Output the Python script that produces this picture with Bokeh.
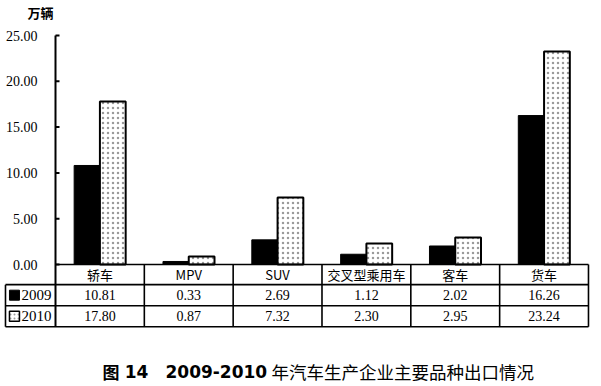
from bokeh.plotting import figure
from bokeh.models import Range1d
from bokeh.core.properties import value
from bokeh.embed import file_html
from bokeh.resources import INLINE

# ---------------- data ----------------
categories = ["轿车", "MPV", "SUV", "交叉型乘用车", "客车", "货车"]
years = ["2009", "2010"]
exports_2009 = [10.81, 0.33, 2.69, 1.12, 2.02, 16.26]
exports_2010 = [17.80, 0.87, 7.32, 2.30, 2.95, 23.24]
y_ticks = [0, 5, 10, 15, 20, 25]
y_tick_labels = ["0.00", "5.00", "10.00", "15.00", "20.00", "25.00"]
unit_label = "万辆"
title_fig = "图"
title_num = "14"
title_years = "2009-2010"
title_rest = "年汽车生产企业主要品种出口情况"

# ---------------- layout constants ----------------
W, H = 601, 386
PX = 88.83         # px per category unit
PY = 9.16          # px per value unit
X0 = -55 / PX
Y1 = 264 / PY
LEG = -0.563       # left edge of legend column
BW = 0.29          # bar width
ROWS = [0.0, -2.2, -4.5, -6.8]   # table row boundaries (data units)

SERIF = value("Liberation Serif")
CJK = value("Noto Sans CJK SC")
BOLD_LATIN = value("DejaVu Sans")

p = figure(width=W, height=H, output_backend="svg", toolbar_location=None,
           x_range=Range1d(X0, X0 + W / PX), y_range=Range1d(Y1 - H / PY, Y1),
           x_axis_type=None, y_axis_type=None, min_border=0)
p.grid.visible = False
p.outline_line_color = None
p.background_fill_color = "white"
p.border_fill_color = "white"

n = len(categories)
centers = [i + 0.5 for i in range(n)]

# ---------------- bars ----------------
p.vbar(x=[c - BW / 2 for c in centers], top=exports_2009, width=BW, bottom=0,
       fill_color="black", line_color="black", line_width=1)
p.vbar(x=[c + BW / 2 for c in centers], top=exports_2010, width=BW, bottom=0,
       fill_color="white", line_color="black", line_width=2,
       hatch_pattern="dot", hatch_color="#9a9a9a", hatch_scale=5, hatch_weight=0.6)

# ---------------- y axis (drawn) ----------------
p.segment(x0=[0], y0=[max(y_ticks)], x1=[0], y1=[ROWS[-1]], line_color="black", line_width=2)
p.segment(x0=[0] * len(y_ticks), y0=y_ticks, x1=[0.045] * len(y_ticks), y1=y_ticks,
          line_color="black", line_width=2)
p.text(x=[-0.203] * len(y_ticks), y=y_ticks, text=y_tick_labels, text_align="right",
       text_baseline="middle", text_font=SERIF, text_font_size="14px", text_color="black")
p.text(x=[-0.17], y=[27.5], text=[unit_label], text_align="center", text_baseline="middle",
       text_font=CJK, text_font_size="13px", text_font_style="bold", text_color="black")

# ---------------- table ----------------
hx0 = [0, LEG, LEG, LEG]
hx1 = [n, n, n, n]
p.segment(x0=hx0, y0=ROWS, x1=hx1, y1=ROWS, line_color="black", line_width=1.6)
vx = list(range(1, n + 1))
p.segment(x0=vx, y0=[0] * len(vx), x1=vx, y1=[ROWS[-1]] * len(vx), line_color="black", line_width=1.6)
p.segment(x0=[LEG], y0=[ROWS[1]], x1=[LEG], y1=[ROWS[-1]], line_color="black", line_width=1.6)

mid = [(ROWS[k] + ROWS[k + 1]) / 2 for k in range(3)]
p.text(x=centers, y=[mid[0]] * n, text=categories, text_align="center", text_baseline="middle",
       text_font=CJK, text_font_size="13px", text_color="black")
p.text(x=centers, y=[mid[1]] * n, text=[f"{v:.2f}" for v in exports_2009], text_align="center",
       text_baseline="middle", text_font=SERIF, text_font_size="14px", text_color="black")
p.text(x=centers, y=[mid[2]] * n, text=[f"{v:.2f}" for v in exports_2010], text_align="center",
       text_baseline="middle", text_font=SERIF, text_font_size="14px", text_color="black")

# legend cells
p.scatter(x=[-0.462], y=[mid[1]], marker="square", size=10, fill_color="black", line_color="black")
p.scatter(x=[-0.462], y=[mid[2]], marker="square", size=10, fill_color="white", line_color="black",
          line_width=1.5, hatch_pattern="dot", hatch_color="#9a9a9a", hatch_scale=4, hatch_weight=0.6)
p.text(x=[-0.383, -0.383], y=[mid[1], mid[2]], text=years, text_align="left", text_baseline="middle",
       text_font=SERIF, text_font_size="15px", text_color="black")

# ---------------- title ----------------
TY = -11.68
p.text(x=[0.529], y=[TY], text=[title_fig], text_align="left", text_baseline="middle",
       text_font=CJK, text_font_size="17px", text_font_style="bold", text_color="black")
p.text(x=[0.78], y=[TY], text=[title_num], text_align="left", text_baseline="middle",
       text_font=BOLD_LATIN, text_font_size="17px", text_font_style="bold", text_color="black")
p.text(x=[1.238], y=[TY], text=[title_years], text_align="left", text_baseline="middle",
       text_font=BOLD_LATIN, text_font_size="17px", text_font_style="bold", text_color="black")
p.text(x=[2.432], y=[TY], text=[title_rest], text_align="left", text_baseline="middle",
       text_font=CJK, text_font_size="17.5px", text_color="black")

open("out.html", "w").write(file_html(p, INLINE))
